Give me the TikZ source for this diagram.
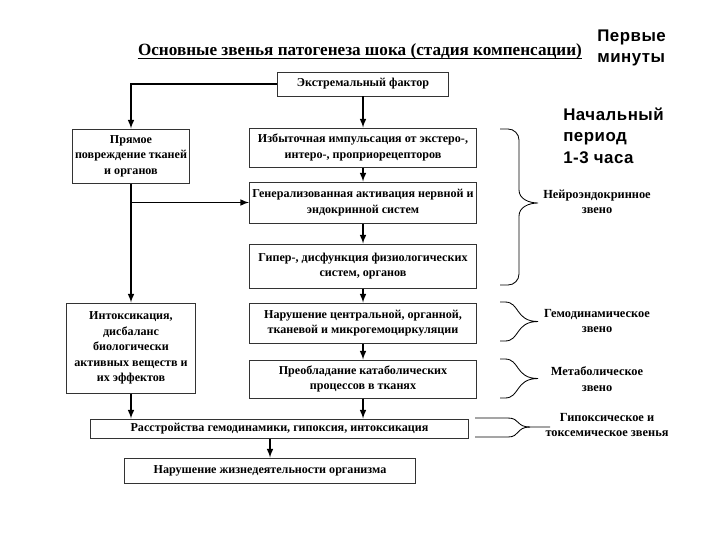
\documentclass[tikz,border=0pt]{standalone}
\usepackage{fontspec}
\setmainfont{Liberation Serif}
\newfontfamily\headfont[LetterSpace=3]{Liberation Sans}
\tikzset{
  blk/.style={draw=black!80, line width=0.7pt, fill=white, align=center,
    font=\bfseries\fontsize{8.6}{11}\selectfont, inner sep=1pt},
  arr/.style={-latex, line width=1.1pt},
  brc/.style={line width=0.6pt},
  lbl/.style={align=center, font=\bfseries\fontsize{8.8}{11}\selectfont},
  per/.style={align=left, anchor=north west, inner sep=0pt,
    font=\headfont\bfseries\fontsize{12}{15}\selectfont}
}
\begin{document}
\begin{tikzpicture}[x=0.025cm,y=-0.025cm]
    \useasboundingbox (0,0) rectangle (720,540);
    % title and time marks
    \node[anchor=base, inner sep=0pt, font=\bfseries\fontsize{12.2}{14}\selectfont] (title) at (360,55)
        {Основные звенья патогенеза шока (стадия компенсации)};
    \draw[line width=1.2pt] ([yshift=-2.5pt]title.base west) -- ([yshift=-2.5pt]title.base east);
    \node[per] (first) at (597,30) {Первые\\минуты};
    \node[per] (start) at (563,108) {Начальный\\период\\1-3 часа};
    % boxes
    \node[blk, minimum width=4.25cm, minimum height=0.6cm] (ext) at (363,84) {Экстремальный фактор};
    \node[blk, minimum width=2.925cm, minimum height=1.35cm] (direct) at (131,156)
        {Прямое\\повреждение тканей\\и органов};
    \node[blk, minimum width=5.675cm, minimum height=0.975cm] (excess) at (363,147.5)
        {Избыточная импульсация от экстеро-,\\интеро-, проприорецепторов};
    \node[blk, minimum width=5.675cm, minimum height=1.025cm] (gener) at (363,202.5)
        {Генерализованная активация нервной и\\эндокринной систем};
    \node[blk, minimum width=5.675cm, minimum height=1.1cm] (hyper) at (363,266)
        {Гипер-, дисфункция физиологических\\систем, органов};
    \node[blk, minimum width=5.675cm, minimum height=1cm] (circ) at (363,323)
        {Нарушение центральной, органной,\\тканевой и микрогемоциркуляции};
    \node[blk, minimum width=5.675cm, minimum height=0.95cm] (catab) at (363,379)
        {Преобладание катаболических\\процессов в тканях};
    \node[blk, minimum width=3.2cm, minimum height=2.25cm] (intox) at (131,348)
        {Интоксикация,\\дисбаланс\\биологически\\активных веществ и\\их эффектов};
    \node[blk, minimum width=9.425cm, minimum height=0.475cm] (disord) at (279.5,428.5)
        {Расстройства гемодинамики, гипоксия, интоксикация};
    \node[blk, minimum width=7.275cm, minimum height=0.625cm] (vital) at (270,470.5)
        {Нарушение жизнедеятельности организма};
    % arrows
    \draw[arr] (ext.south) -- (excess.north);
    \draw[arr] (excess.south) -- (gener.north);
    \draw[arr] (gener.south) -- (hyper.north);
    \draw[arr] (hyper.south) -- (circ.north);
    \draw[arr] (circ.south) -- (catab.north);
    \draw[arr] (ext.west) -| (direct.north);
    \draw[arr] (direct.south) -- (intox.north);
    \coordinate (split) at (direct.south |- gener.west);
    \draw[arr] (split) -- (gener.west);
    \draw[arr] (intox.south) -- (intox.south |- disord.north);
    \draw[arr] (catab.south) -- (catab.south |- disord.north);
    \draw[arr] (disord.south -| vital.north) -- (vital.north);
    % braces
    \draw[brc] (500,129) -- (508,129) to[out=0,in=90] (519,140) -- (519,190)
        to[out=-90,in=180] (538,203) to[out=180,in=90] (519,216) -- (519,274)
        to[out=-90,in=0] (508,285) -- (500,285);
    \foreach \t/\b in {302/341,359/398}
        \draw[brc] (500,\t) -- (505,\t) .. controls (520,\t) and (515,{(\t+\b)/2}) .. (538,{(\t+\b)/2})
            .. controls (515,{(\t+\b)/2}) and (520,\b) .. (505,\b) -- (500,\b);
    \draw[brc] (475,418) -- (508,418) .. controls (520,418) and (516,427) .. (530,427) -- (550,427);
    \draw[brc] (475,437) -- (508,437) .. controls (520,437) and (516,427) .. (530,427);
    \node[lbl] (neuro) at (597,202) {Нейроэндокринное\\звено};
    \node[lbl] (hemo) at (597,321) {Гемодинамическое\\звено};
    \node[lbl] (metab) at (597,379) {Метаболическое\\звено};
    \node[lbl] (hypox) at (607,425) {Гипоксическое и\\токсемическое звенья};
\end{tikzpicture}
\end{document}
